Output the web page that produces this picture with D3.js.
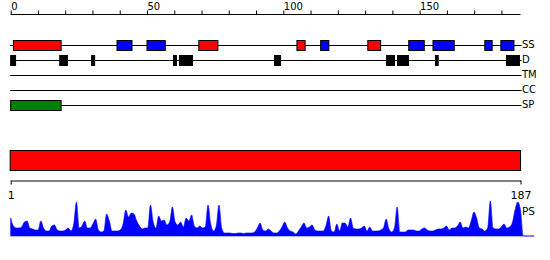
<!DOCTYPE html>
<html>
<head>
<meta charset="utf-8">
<script src="https://cdn.jsdelivr.net/npm/d3@7"></script>
<style>
  html, body { margin: 0; padding: 0; background: #fff; }
  svg { display: block; font-family: "DejaVu Sans", sans-serif; }
</style>
</head>
<body>
<svg id="chart" width="550" height="260"></svg>
<script>
// ---- data ----
const seqLength = 187;
const topTicks = d3.range(0, 181, 10);
const topTickLabels = [0, 50, 100, 150];
const trackNames = ["SS", "D", "TM", "CC", "SP"];
const helixSegments = [[1, 18.5], [69, 76], [105, 108], [131, 135.7]];
const strandSegments = [[39, 44.5], [50, 56.7], [113.7, 116.7], [146, 151.7], [154.9, 162.7], [173.9, 176.6], [179.8, 184.6]];
const disorderSegments = [[0, 1.8], [18, 20.8], [29.7, 30.8], [59.7, 60.8], [61.9, 66.7], [96.8, 99], [137.9, 140.8], [141.9, 145.9], [155.8, 156.8], [181.9, 186.6]];
const tmSegments = [];
const ccSegments = [];
const signalSegments = [[0, 18.5]];
const domainSegments = [[1, 187]];
const bottomTickLabels = [1, 187];
const psValues = [
  18,10,8,8,9,14,15,8,7,6, 6,15,8,5,5,10,11,6,5,5,
  6,8,5,12,34,8,10,15,8,8, 12,17,6,4,5,22,15,5,5,5,
  6,12,26,19,23,22,15,10,7,8, 8,31,14,8,20,15,16,11,14,29,
  14,11,14,9,18,15,21,10,8,10, 8,9,31,12,5,10,31,8,3,3,
  3,2.5,2.5,3,3,2.5,3,3,3,4, 8,13,6,5,7,5,3,3,5,9,
  14,8,5,4,2,5,9,13,8,9, 11,6,5,5,5,10,20,5,4,12,
  5,13,13,9,18,8,7,7,8,10, 5,9,5,5,5,6,8,17,7,4,
  8,29,4,4,4,6,6,6,5,5, 7,8,6,5,5,6,7,7,8,10,
  6,8,8,10,14,8,9,8,15,24, 18,8,7,5,8,35,8,7,7,9,
  12,8,9,13,26,34,26,0,0,0, 0,0
];

// ---- scales ----
const svg = d3.select("#chart");
const x = d3.scaleLinear().domain([0, seqLength]).range([10.67, 520.5]);
const xb = d3.scaleLinear().domain([1, seqLength]).range([10.67, 520.5]);
const yTrack = d3.scalePoint().domain(trackNames).range([45.5, 105.5]);
const yPs = d3.scaleLinear().domain([0, 35]).range([236, 201]);

// ---- top axis ----
const topAxis = d3.axisTop(x)
  .tickValues(topTicks)
  .tickSize(4)
  .tickSizeOuter(0)
  .tickPadding(0.5)
  .tickFormat(d => topTickLabels.includes(d) ? d : "");
const gTop = svg.append("g").attr("transform", "translate(0,14.5)").call(topAxis);
gTop.select(".domain").attr("d", `M${x(0)},0H${x(seqLength)}`).attr("stroke", "#000");
gTop.selectAll(".tick line").attr("stroke", "#000");
gTop.selectAll(".tick text")
  .attr("text-anchor", "start")
  .attr("fill", "#000")
  .style("font-size", "10px")
  .style("font-family", "DejaVu Sans, sans-serif");

// ---- tracks ----
const tracks = [
  { name: "SS", segs: [...helixSegments.map(s => ({ s, c: "#ff0000" })), ...strandSegments.map(s => ({ s, c: "#0000ff" }))] },
  { name: "D", segs: disorderSegments.map(s => ({ s, c: "#000000" })) },
  { name: "TM", segs: tmSegments.map(s => ({ s, c: "#888" })) },
  { name: "CC", segs: ccSegments.map(s => ({ s, c: "#888" })) },
  { name: "SP", segs: signalSegments.map(s => ({ s, c: "#008000" })) }
];
const gTracks = svg.append("g");
tracks.forEach(t => {
  const yc = yTrack(t.name);
  gTracks.append("line")
    .attr("x1", x(0) - 0.5).attr("x2", x(seqLength) + 1)
    .attr("y1", yc).attr("y2", yc)
    .attr("stroke", "#000").attr("stroke-width", 1);
  gTracks.selectAll(null).data(t.segs).enter().append("rect")
    .attr("x", d => x(d.s[0]))
    .attr("width", d => x(d.s[1]) - x(d.s[0]))
    .attr("y", yc - 5)
    .attr("height", 10)
    .attr("fill", d => d.c)
    .attr("stroke", "#000").attr("stroke-width", 1);
  gTracks.append("text")
    .attr("x", x(seqLength) + 1.5)
    .attr("y", yc)
    .attr("dy", "0.25em")
    .attr("fill", "#000")
    .style("font-size", "10px")
    .text(t.name);
});

// ---- domain bar ----
svg.append("g").selectAll("rect").data(domainSegments).enter().append("rect")
  .attr("x", d => xb(d[0]) - 0.5)
  .attr("width", d => xb(d[1]) - xb(d[0]) + 0.5)
  .attr("y", 150.5).attr("height", 20)
  .attr("fill", "#ff0000").attr("stroke", "#000").attr("stroke-width", 1);

// ---- bottom axis ----
const bottomAxis = d3.axisBottom(xb)
  .tickValues(bottomTickLabels)
  .tickSize(4)
  .tickSizeOuter(0)
  .tickPadding(7);
const gBot = svg.append("g").attr("transform", "translate(0,180.5)").call(bottomAxis);
gBot.select(".domain").attr("stroke", "#000");
gBot.selectAll(".tick line").attr("stroke", "#000");
gBot.selectAll(".tick text")
  .attr("fill", "#000")
  .style("font-size", "11px")
  .style("font-family", "DejaVu Sans, sans-serif");

// ---- PS profile ----
const psData = psValues.map((v, i) => ({ r: i + 1, v }));
const area = d3.area()
  .x(d => xb(d.r))
  .y0(yPs(0))
  .y1(d => yPs(d.v))
  .curve(d3.curveMonotoneX);
svg.append("path").datum(psData)
  .attr("d", area)
  .attr("fill", "#0000ff")
  .attr("stroke", "#0000ff")
  .attr("stroke-width", 0.6);
svg.append("text")
  .attr("x", xb(seqLength) + 1.5)
  .attr("y", 215)
  .attr("fill", "#000")
  .style("font-size", "10.5px")
  .text("PS");
</script>
</body>
</html>
